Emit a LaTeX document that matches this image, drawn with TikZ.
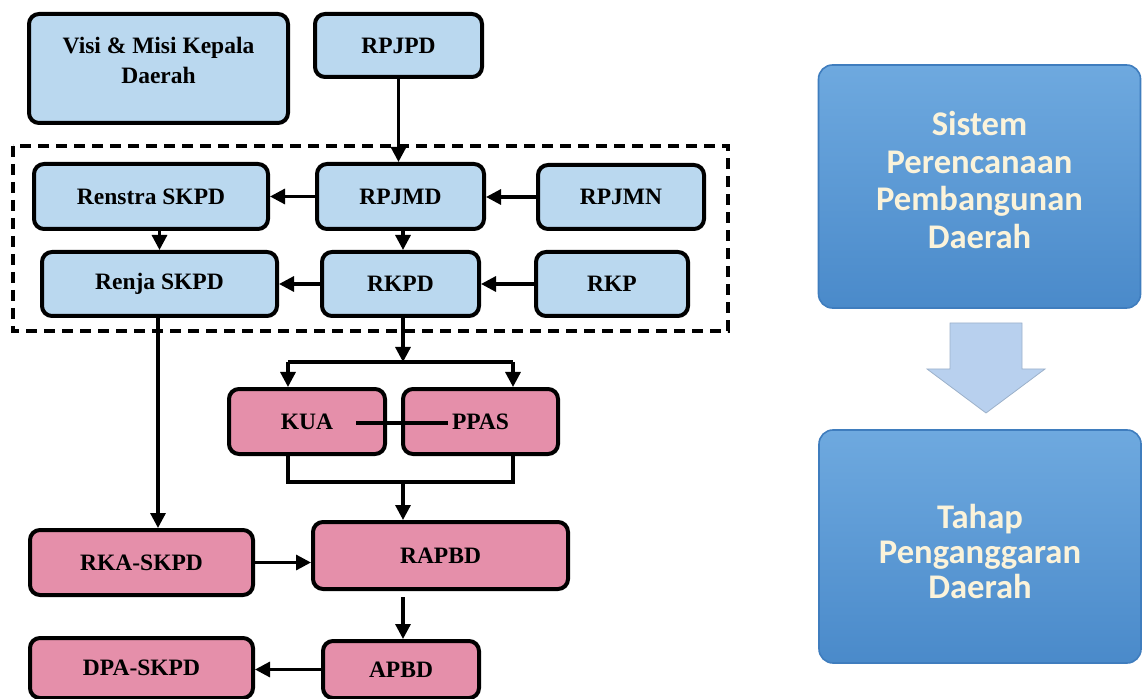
\documentclass[tikz,border=0pt]{standalone}
\usepackage{fontspec}
\setmainfont{Liberation Serif}
\newfontfamily\calibri{Carlito}
\usepackage{tikz}
\usetikzlibrary{positioning}
\usetikzlibrary{arrows.meta}
\definecolor{boxblue}{HTML}{BAD8EF}
\definecolor{boxpink}{HTML}{E58FAA}
\definecolor{bigtop}{HTML}{6EA9DF}
\definecolor{bigbot}{HTML}{4A8ACA}
\definecolor{bigline}{HTML}{3F7DBE}
\definecolor{arrowblue}{HTML}{B8D0EE}
\definecolor{creamtext}{HTML}{FBF3DA}
\tikzset{box/.style = {draw, line width=2pt, rounded corners=5pt,
                       font=\fontsize{11.75}{15}\selectfont\bfseries, inner sep=0}}
\tikzset{bluebox/.style = {box, fill=boxblue}}
\tikzset{pinkbox/.style = {box, fill=boxpink}}
\tikzset{boxtext/.style = {align=center, font=\fontsize{11.75}{15}\selectfont\bfseries}}
\tikzset{arr/.style = {line width=1.6pt, -{Triangle[length=7.5pt,width=7.5pt]}}}
\tikzset{plain/.style = {line width=1.6pt}}
\tikzset{bigbox/.style = {draw=bigline, line width=0.8pt, rounded corners=7pt,
                          top color=bigtop, bottom color=bigbot, align=center,
                          text=creamtext, font=\calibri\fontsize{17.3}{18.8}\selectfont\bfseries,
                          minimum width=161pt, inner sep=0}}

\begin{document}
\begin{tikzpicture}[x=0.5pt, y=-0.5pt]
      \useasboundingbox (0,0) rectangle (1143,699);
      \draw[line width=2pt, dash pattern=on 5.5pt off 3.5pt] (13,146) rectangle (728,331);
      \node[bluebox, minimum width=129.5pt, minimum height=54.5pt] (visi) at (158.5,68.5) {};
      \node[boxtext] (visitext) at (158.5,60) {Visi \& Misi Kepala\\Daerah};
      \node[bluebox, minimum width=83.5pt, minimum height=31.5pt] (rpjpd) at (398.5,45.5) {RPJPD};
      \node[bluebox, minimum width=117pt, minimum height=32.5pt] (renstra) at (151,196.5) {Renstra SKPD};
      \node[bluebox, minimum width=83.5pt, minimum height=32.5pt] (rpjmd) at (400.5,196.5) {RPJMD};
      \node[bluebox, minimum width=83pt, minimum height=32pt] (rpjmn) at (621,197) {RPJMN};
      \node[bluebox, minimum width=117.5pt, minimum height=32pt] (renja) at (159.5,284) {Renja SKPD};
      \node[bluebox, minimum width=78.5pt, minimum height=32pt] (rkpd) at (400.5,284) {RKPD};
      \node[bluebox, minimum width=76pt, minimum height=32pt] (rkp) at (612,284) {RKP};
      \node[pinkbox, minimum width=78pt, minimum height=32.5pt] (kua) at (307,421.5) {KUA};
      \node[pinkbox, minimum width=77.5pt, minimum height=32.5pt] (ppas) at (480.5,421.5) {PPAS};
      \node[pinkbox, minimum width=111.5pt, minimum height=32.5pt] (rka) at (141.5,562.5) {RKA-SKPD};
      \node[pinkbox, minimum width=127.5pt, minimum height=33.5pt] (rapbd) at (440.5,555.5) {RAPBD};
      \node[pinkbox, minimum width=111.5pt, minimum height=30pt] (dpa) at (141.5,668) {DPA-SKPD};
      \node[pinkbox, minimum width=78pt, minimum height=28.5pt] (apbd) at (401,669.5) {APBD};
      \coordinate (split) at (403,362);
      \coordinate (joint) at (403,482);
      \coordinate (kuaR) at (356,423);
      \coordinate (ppasL) at (448,423);
      \draw[arr] (rpjpd.south) -- (rpjpd.south |- rpjmd.north);
      \draw[arr] (rpjmd.west) -- (renstra.east);
      \draw[arr] (rpjmn.west) -- (rpjmn.west -| rpjmd.east);
      \draw[arr] (renja.north |- renstra.south) -- (renja.north);
      \draw[arr] (split |- rpjmd.south) -- (split |- rkpd.north);
      \draw[arr] (rkpd.west) -- (renja.east);
      \draw[arr] (rkp.west) -- (rkpd.east);
      \draw[arr] (renja.south -| 158,0) -- (158,0 |- rka.north);
      \draw[arr] (split |- rkpd.south) -- (split);
      \draw[plain] (288,362) -- (513,362);
      \draw[arr] (288,362) -- (288,0 |- kua.north);
      \draw[arr] (513,362) -- (513,0 |- ppas.north);
      \draw[plain] (kuaR) -- (ppasL);
      \draw[plain] (288,0 |- kua.south) -- (288,482) -- (513,482) -- (513,0 |- ppas.south);
      \draw[arr] (joint) -- (joint |- rapbd.north);
      \draw[arr] (rka.east) -- (rka.east -| rapbd.west);
      \draw[arr, shorten <=3pt] (split |- rapbd.south) -- (split |- apbd.north);
      \draw[arr] (apbd.west) -- (apbd.west -| dpa.east);
      \node[bigbox, minimum height=121.5pt] (sistem) at (979.5,186.5)
        {Sistem\\Perencanaan\\Pembangunan\\Daerah\\[-12pt]};
      \draw[fill=arrowblue, draw=arrowblue!85!black, line width=0.4pt]
        (950,323) -- (1022,323) -- (1022,369) -- (1045,369) -- (986,413)
        -- (927,369) -- (950,369) -- cycle;
      \node[bigbox, minimum height=116.5pt, font=\calibri\fontsize{17.3}{17.5}\selectfont\bfseries] (tahap) at (980,546.5)
        {\\Tahap\\Penganggaran\\Daerah};
    \end{tikzpicture}
\end{document}
